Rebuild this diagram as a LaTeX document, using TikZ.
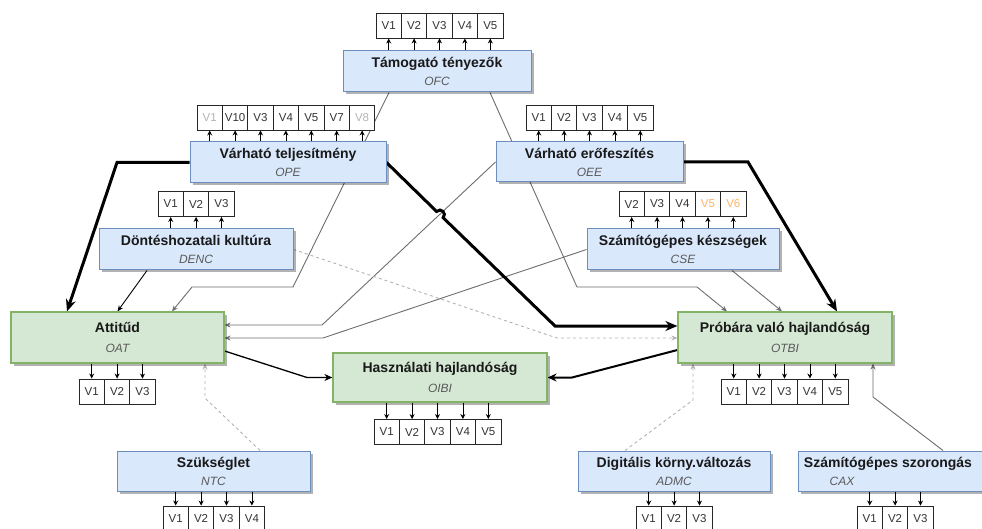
\documentclass[tikz,border=0pt]{standalone}
\usepackage{fontspec}
\setmainfont{Liberation Sans}
\usetikzlibrary{arrows.meta,shadows,calc}
\pgfdeclarelayer{bg}
\pgfsetlayers{bg,main}
\definecolor{bfill}{HTML}{DAE8FC}
\definecolor{bdraw}{HTML}{6C8EBF}
\definecolor{gfill}{HTML}{D5E8D4}
\definecolor{gdraw}{HTML}{82B366}
\definecolor{lgray}{HTML}{B3B3B3}
\definecolor{mgray}{HTML}{6E6E6E}
\definecolor{subgray}{HTML}{5A5A5A}
\definecolor{orng}{HTML}{FFB366}
\definecolor{vtext}{HTML}{333333}
\tikzset{
 shbox/.style={drop shadow={shadow xshift=2.5pt,shadow yshift=-2.5pt,opacity=0.3,fill=black}},
 bbox/.style={shbox, draw=bdraw, fill=bfill, line width=1pt, inner sep=0pt},
 gbox/.style={shbox, draw=gdraw, fill=gfill, line width=1.2pt, inner sep=0pt},
 ttl/.style={anchor=base, inner sep=0pt, font=\fontsize{14}{16}\selectfont\bfseries, text=black!90},
 sbt/.style={anchor=base, inner sep=0pt, font=\fontsize{12}{14}\selectfont\itshape, text=subgray},
 vcell/.style={draw=black!85, fill=white, line width=0.9pt, minimum width=25.4pt, minimum height=25pt, inner sep=0pt, font=\fontsize{11.5}{13}\selectfont, text=vtext},
 cellarrow/.style={-{Stealth[length=5pt,width=5pt]}, line width=0.8pt, black},
 thinarr/.style={-{Stealth[length=6pt,width=5pt]}, line width=0.9pt, mgray},
 darkarr/.style={-{Stealth[length=6pt,width=5pt]}, line width=0.9pt, black},
 dasharr/.style={-{Stealth[length=6pt,width=5pt]}, line width=0.9pt, lgray, dash pattern=on 3pt off 3pt},
 thickarr/.style={-{Stealth[length=12pt,width=10pt]}, line width=3pt, black},
 medarr/.style={-{Stealth[length=9pt,width=8pt]}, line width=2pt, black},
}
\newcommand{\bluenode}[7]{%
 \node[bbox, minimum width=#4pt, minimum height=#5pt] (#1) at (#2,#3) {};
 \node[ttl] (#1t) at (#2,{#3-3.7}) {#6};
 \node[sbt] (#1s) at (#2,{#3+14.3}) {#7};}
\newcommand{\greennode}[7]{%
 \node[gbox, minimum width=#4pt, minimum height=#5pt] (#1) at (#2,#3) {};
 \node[ttl] (#1t) at (#2,{#3-4.7}) {#6};
 \node[sbt] (#1s) at (#2,{#3+14.8}) {#7};}
\newcommand{\myrow}[6]{%
 \foreach \lab [count=\i] in {#4}{%
  \node[vcell] (#1v\i) at ({#2+\i*25.4-12.7},#3) {\lab};
  \draw[cellarrow] (#1v\i.#6 |- #1.#5) -- (#1v\i.#6);}}
\begin{document}
\begin{tikzpicture}[x=1pt,y=-1pt]
\useasboundingbox (0,0) rectangle (982,529);
% boxes
\bluenode{ofc}{437}{71.5}{188}{41}{Támogató tényezők}{OFC}
\bluenode{ope}{288}{162.5}{196}{41}{Várható teljesítmény}{OPE}
\bluenode{oee}{589.5}{162}{187}{40}{Várható erőfeszítés}{OEE}
\bluenode{denc}{196}{249.5}{194}{41}{Döntéshozatali kultúra}{DENC}
\bluenode{cse}{683}{249.5}{192}{41}{Számítógépes készségek}{CSE}
\greennode{oat}{117.5}{337.5}{213}{51}{Attitűd}{OAT}
\greennode{oibi}{440}{377.5}{214}{49}{Használati hajlandóság}{OIBI}
\greennode{otbi}{785}{337.5}{214}{51}{Próbára való hajlandóság}{OTBI}
\bluenode{ntc}{213.5}{471}{193}{40}{Szükséglet}{NTC}
\bluenode{admc}{674}{471}{192}{40}{Digitális körny.változás}{ADMC}
\node[bbox, minimum width=192pt, minimum height=40pt] (cax) at (894,471) {};
\node[ttl] (caxt) at (888,467.3) {Számítógépes szorongás};
\node[sbt] (caxs) at (842,485.3) {CAX};
% indicator rows
\myrow{ofc}{376}{25.5}{V1,V2,V3,V4,V5}{north}{south}
\myrow{ope}{197}{117.5}{{\textcolor{lgray}{V1}},V10,V3,V4,V5,V7,{\textcolor{lgray}{V8}}}{north}{south}
\myrow{oee}{526}{117.5}{V1,V2,V3,V4,V5}{north}{south}
\myrow{denc}{158}{204}{V1,V2,V3}{north}{south}
\myrow{cse}{619}{204}{V2,V3,V4,{\textcolor{orng}{V5}},{\textcolor{orng}{V6}}}{north}{south}
\myrow{oat}{79}{391.5}{V1,V2,V3}{south}{north}
\myrow{oibi}{374}{432}{V1,V2,V3,V4,V5}{south}{north}
\myrow{otbi}{721}{391.5}{V1,V2,V3,V4,V5}{south}{north}
\myrow{ntc}{163}{518.5}{V1,V2,V3,V4}{south}{north}
\myrow{admc}{636}{518.5}{V1,V2,V3}{south}{north}
\myrow{cax}{857}{518.5}{V1,V2,V3}{south}{north}
% connectors
\begin{pgfonlayer}{bg}
\fill[white] (0,0) rectangle (982,529);
\coordinate (w1) at (293,287); \coordinate (w2) at (192,287);
\draw[thinarr] ([xshift=-48pt]ofc.south) -- (w1) -- (w2) -- ([xshift=54.5pt]oat.north);
\coordinate (w3) at (577,287); \coordinate (w4) at (697,287);
\draw[thinarr] ([xshift=53pt]ofc.south) -- (w3) -- (w4) -- ([xshift=-58pt]otbi.north);
\coordinate (w5) at (322,325);
\draw[thinarr] (oee.west) -- (w5) -- (w5 -| oat.east);
\coordinate (w6) at (323,338);
\draw[thinarr] (cse.west) -- (w6) -- (w6 -| oat.east);
\draw[darkarr] ([xshift=-49pt]denc.south) -- (oat.north);
\coordinate (w7) at (557,338);
\draw[dasharr] (denc.east) -- (w7) -- (w7 -| otbi.west);
\coordinate (w8) at (117,162.5);
\draw[thickarr] (ope.west) -- (w8) -- ([xshift=-50.5pt]oat.north);
\coordinate (h1) at (436.6,211.5); \coordinate (h2) at (443.1,217.7);
\coordinate (w9) at (555,326);
\draw[thickarr] (ope.east) -- (h1) .. controls (440.8,207.2) and (447.3,213.4) .. (h2) -- (w9) -- (w9 -| otbi.west);
\coordinate (w10) at (748,162);
\draw[thickarr] (oee.east) -- (w10) -- ([xshift=52pt]otbi.north);
\draw[thinarr] ([xshift=49pt]cse.south) -- ([xshift=-3pt]otbi.north);
\coordinate (w11) at (307,377.5);
\draw[darkarr, line width=1.3pt, -{Stealth[length=8pt,width=7pt]}] ([yshift=-13.5pt]oat.east) -- (w11) -- (oibi.west);
\coordinate (w12) at (572,377.5);
\draw[medarr] ([yshift=-12.5pt]otbi.west) -- (w12) -- (oibi.east);
\coordinate (w13) at (205,398);
\draw[dasharr] ([xshift=46.5pt]ntc.north) -- (w13) -- (w13 |- oat.south);
\coordinate (w14) at (693,400);
\draw[dasharr] ([xshift=-49pt]admc.north) -- (w14) -- (w14 |- otbi.south);
\coordinate (w15) at (873,397);
\draw[thinarr] ([xshift=49pt]cax.north) -- (w15) -- (w15 |- otbi.south);
\end{pgfonlayer}
\end{tikzpicture}
\end{document}
